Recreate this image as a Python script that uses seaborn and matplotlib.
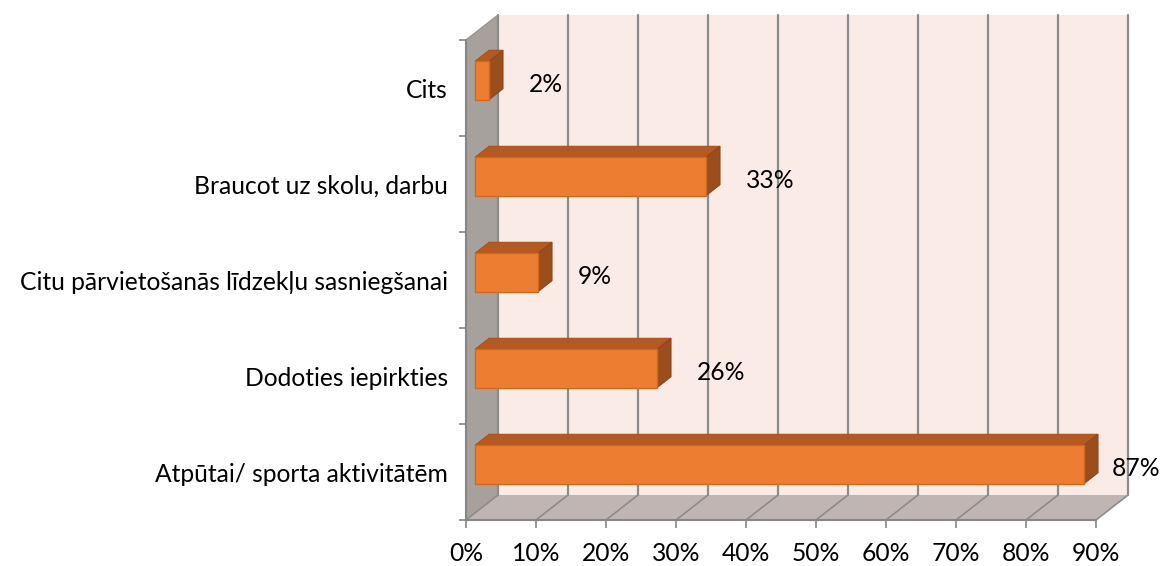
import numpy as np
import matplotlib
matplotlib.use("Agg")
import matplotlib.pyplot as plt
import seaborn as sns
from matplotlib.patches import Polygon
from matplotlib.transforms import IdentityTransform, ScaledTranslation

# Data
categories = ["Cits", "Braucot uz skolu, darbu",
              "Citu pārvietošanās līdzekļu sasniegšanai",
              "Dodoties iepirkties", "Atpūtai/ sporta aktivitātēm"]
values = [2, 33, 9, 26, 87]
xticks = [0, 10, 20, 30, 40, 50, 60, 70, 80, 90]

sns.set_style("white")
plt.rcParams['font.family'] = ['Lato', 'DejaVu Sans']
FS = 17.7

W, H, DPI = 1163, 566, 100
fig = plt.figure(figsize=(W / DPI, H / DPI), dpi=DPI)
ax = fig.add_axes([466 / W, 46 / H, 630 / W, 480 / H])
ax.set_facecolor("none")

# depth of the box and of the bars (pixels)
DX, DY = 32, 25
BOX, BOY = 9, 7.5
BDX, BDY = 14, 11

sns.barplot(x=values, y=categories, orient="h", width=0.4, color="#ED7D31",
            saturation=1, ax=ax, edgecolor="#D0691F", linewidth=1, zorder=5)
ax.set_xlim(0, 90)
ax.set_ylim(len(categories) - 0.5, -0.5)

# walls
tr = IdentityTransform()
(x0, y0), (x1, y1) = ax.transAxes.transform([(0, 0), (1, 1)])
def poly(pts, fc, z, ec="none", lw=0):
    ax.add_patch(Polygon(pts, closed=True, facecolor=fc, edgecolor=ec, lw=lw,
                         transform=tr, clip_on=False, zorder=z))

poly([(x0, y0), (x0, y1), (x0 + DX, y1 + DY), (x0 + DX, y0 + DY)], "#A7A19D", 0.1)
poly([(x0 + DX, y0 + DY), (x0 + DX, y1 + DY), (x1 + DX, y1 + DY), (x1 + DX, y0 + DY)],
     "#FBEBE6", 0.1)
poly([(x0, y0), (x1, y0), (x1 + DX, y0 + DY), (x0 + DX, y0 + DY)], "#BFB5B3", 0.1)

gc = "#8C8C8C"
for t in xticks:
    xd = ax.transData.transform((t, 0))[0]
    ax.plot([xd + DX, xd + DX], [y0 + DY, y1 + DY], color=gc, lw=1.6,
            transform=tr, clip_on=False, zorder=0.2)
    ax.plot([xd, xd + DX], [y0, y0 + DY], color=gc, lw=1.2,
            transform=tr, clip_on=False, zorder=0.2)
ax.plot([x0, x0 + DX], [y1, y1 + DY], color="#9A9490", lw=1,
        transform=tr, clip_on=False, zorder=0.3)

# bars: shift front face to mid depth, add top and side faces
off = ScaledTranslation(BOX / DPI, BOY / DPI, fig.dpi_scale_trans)
for p, v in zip(ax.patches[:len(values)], values):
    p.set_transform(ax.transData + off)
    bx, by, bw, bh = p.get_x(), p.get_y(), p.get_width(), p.get_height()
    (xl, yb), (xr, yt) = ax.transData.transform([(bx, by + bh), (bx + bw, by)])
    xl, xr, yb, yt = xl + BOX, xr + BOX, yb + BOY, yt + BOY
    poly([(xl, yt), (xr, yt), (xr + BDX, yt + BDY), (xl + BDX, yt + BDY)],
         "#B45A21", 4, "#A85220", 0.8)
    poly([(xr, yb), (xr, yt), (xr + BDX, yt + BDY), (xr + BDX, yb + BDY)],
         "#9C4D1C", 4, "#8F461A", 0.8)
    tx = min(xr + 40, 1112)
    ax.text(tx, (yb + yt) / 2 - 4, f"{v}%", transform=tr, fontsize=FS,
            ha="left", va="center", color="black", zorder=6)

# axes styling
for s in ["top", "right"]:
    ax.spines[s].set_visible(False)
for s in ["left", "bottom"]:
    ax.spines[s].set_color("#868686")
    ax.spines[s].set_linewidth(1.5)
    ax.spines[s].set_zorder(1)
ax.set_xticks(xticks)
ax.set_xticklabels([f"{t}%" for t in xticks], fontsize=FS, color="black")
ax.set_yticks(range(len(categories)))
ax.set_yticklabels(categories, fontsize=FS, color="black")
ax.set_yticks(np.arange(-0.5, len(categories)), minor=True)
ax.tick_params(axis="y", which="major", length=0, pad=13)
ax.tick_params(axis="y", which="minor", length=5, color="#868686", width=1.2,
               direction="out", left=True)
ax.tick_params(axis="x", length=6, color="#868686", width=1.2, direction="out",
               bottom=True, pad=10)
ax.set_xlabel("")
ax.set_ylabel("")

fig.savefig("out.png", dpi=DPI)
